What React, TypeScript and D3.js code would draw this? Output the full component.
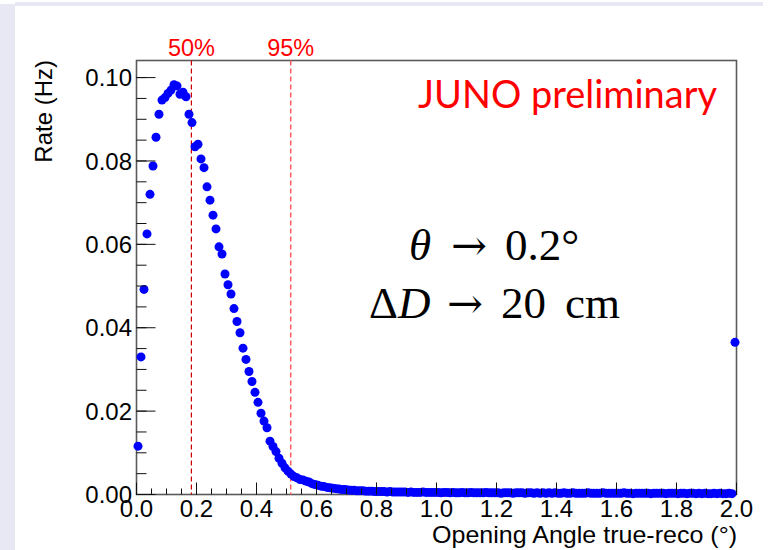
import React from 'react';
import * as d3 from 'd3';

// Rate (Hz) per 0.01° bin of opening angle; bins from 0.00 to 2.00
const rateHead = [
  0.0116, 0.0330, 0.0492, 0.0625, 0.0720, 0.0788, 0.0857, 0.0912, 0.0946, 0.0952,
  0.0962, 0.0970, 0.0983, 0.0980, 0.0960, 0.0965, 0.0954, 0.0912, 0.0892, 0.0834,
  0.0840, 0.0805, 0.0784, 0.0738, 0.0706, 0.0670, 0.0637, 0.0594, 0.0577, 0.0529,
  0.0503, 0.0481, 0.0446, 0.0415, 0.0388, 0.0351, 0.0324, 0.0295, 0.0271, 0.0245,
  0.0221, 0.0195, 0.0176, 0.0160, 0.0128, 0.0115, 0.0103, 0.0087, 0.0075, 0.0064,
  0.0056, 0.0049, 0.0043, 0.0040, 0.0036, 0.0035, 0.0032, 0.0030, 0.0026,
];
const rateTail = [
  0.0024, 0.0022, 0.0020, 0.0019, 0.0017, 0.0016, 0.0015, 0.0014, 0.0013, 0.0012,
  0.0012, 0.0011, 0.0010, 0.0010, 0.0009, 0.0009, 0.0009, 0.0008, 0.0008, 0.0008,
  0.0007, 0.0007, 0.0007, 0.0007, 0.0006, 0.0007, 0.0006, 0.0006, 0.0006, 0.0006,
  0.0006, 0.0005, 0.0006, 0.0005, 0.0005, 0.0005, 0.0006, 0.0005, 0.0005, 0.0005,
  0.0005, 0.0005, 0.0004, 0.0005, 0.0005, 0.0004, 0.0005, 0.0004, 0.0004, 0.0005,
  0.0004, 0.0004, 0.0005, 0.0004, 0.0004, 0.0004, 0.0004, 0.0005, 0.0004, 0.0004,
  0.0004, 0.0004, 0.0003, 0.0004, 0.0004, 0.0004, 0.0003, 0.0004, 0.0004, 0.0004,
  0.0003, 0.0004, 0.0004, 0.0003, 0.0004, 0.0003, 0.0004, 0.0003, 0.0004, 0.0003,
  0.0004, 0.0003, 0.0003, 0.0004, 0.0003, 0.0003, 0.0004, 0.0003, 0.0003, 0.0003,
  0.0003, 0.0004, 0.0003, 0.0003, 0.0003, 0.0003, 0.0004, 0.0003, 0.0003, 0.0003,
  0.0003, 0.0003, 0.0003, 0.0004, 0.0003, 0.0003, 0.0002, 0.0003, 0.0003, 0.0003,
  0.0003, 0.0003, 0.0002, 0.0003, 0.0003, 0.0003, 0.0003, 0.0002, 0.0003, 0.0003,
  0.0003, 0.0002, 0.0003, 0.0003, 0.0002, 0.0003, 0.0003, 0.0002, 0.0003, 0.0002,
  0.0003, 0.0002, 0.0002, 0.0003, 0.0002, 0.0003, 0.0002, 0.0002, 0.0003, 0.0002,
];
const overflowRate = 0.0365;
const rates = [...rateHead, ...rateTail, overflowRate];
const binWidth = 0.01;

const xTickValues = [0, 0.2, 0.4, 0.6, 0.8, 1.0, 1.2, 1.4, 1.6, 1.8, 2.0];
const xTickLabels = ['0.0', '0.2', '0.4', '0.6', '0.8', '1.0', '1.2', '1.4', '1.6', '1.8', '2.0'];
const yTickValues = [0, 0.02, 0.04, 0.06, 0.08, 0.1];
const yTickLabels = ['0.00', '0.02', '0.04', '0.06', '0.08', '0.10'];

const quantileValues = [0.183, 0.514];
const quantileLabels = ['50%', '95%'];
const quantileColors = ['#c80000', '#ff5a5a'];

const xTitle = 'Opening Angle true-reco (°)';
const yTitle = 'Rate (Hz)';

export default function App() {
  const W = 777, H = 550;
  const L = 136.5, R = 736.5, T = 60.5, B = 494.5;
  const x = d3.scaleLinear().domain([0, 2]).range([L, R]);
  const y = d3.scaleLinear().domain([0, 0.1041]).range([B, T]);
  const xMinor = d3.range(0, 2.0001, 0.05);
  const yMinor = d3.range(0, 0.104, 0.005);
  const sans = 'Liberation Sans, Arial, Helvetica, sans-serif';
  const serif = 'Liberation Serif, Times New Roman, serif';

  return (
    <svg width={W} height={H} style={{ position: 'absolute', left: 0, top: 0, background: '#fff' }}>
      <rect x={0} y={0} width={W} height={H} fill="#ffffff" />
      <rect x={0} y={4} width={15} height={H - 4} fill="#e8e8f4" />
      <rect x={15} y={2} width={748} height={4} fill="#e8e8f4" />

      {/* frame */}
      <rect x={L} y={T} width={R - L} height={B - T} fill="none" stroke="#5a5a5a" strokeWidth={1.6} />

      {/* quantile lines */}
      {quantileValues.map((q, i) => (
        <g key={'q' + i}>
          <line x1={x(q)} x2={x(q)} y1={T} y2={B} stroke={quantileColors[i]} strokeWidth={i === 0 ? 1.2 : 1.5} strokeDasharray="5,3" />
          <text x={x(q)} y={56} textAnchor="middle" fontFamily={sans} fontSize={23.5} fill="#ff0000">{quantileLabels[i]}</text>
        </g>
      ))}

      {/* points */}
      {rates.map((v, i) => (
        <circle key={'p' + i} cx={x(binWidth * i + binWidth / 2)} cy={y(v)} r={4.5} fill="#0000ff" />
      ))}

      {/* x ticks */}
      {xMinor.map((t, i) => (
        <line key={'xm' + i} x1={x(t)} x2={x(t)} y1={B} y2={B - 6} stroke="#111" strokeWidth={1} />
      ))}
      {xTickValues.map((t, i) => (
        <g key={'xt' + i}>
          <line x1={x(t)} x2={x(t)} y1={B} y2={B - 12} stroke="#111" strokeWidth={1} />
          <text x={x(t)} y={517} textAnchor="middle" fontFamily={sans} fontSize={24} fill="#000">{xTickLabels[i]}</text>
        </g>
      ))}

      {/* y ticks */}
      {yMinor.map((t, i) => (
        <line key={'ym' + i} x1={L} x2={L + 10} y1={y(t)} y2={y(t)} stroke="#111" strokeWidth={1} />
      ))}
      {yTickValues.map((t, i) => (
        <g key={'yt' + i}>
          <line x1={L} x2={L + 19} y1={y(t)} y2={y(t)} stroke="#111" strokeWidth={1} />
          <text x={132} y={y(t)} dy="0.36em" textAnchor="end" fontFamily={sans} fontSize={24} fill="#000">{yTickLabels[i]}</text>
        </g>
      ))}

      {/* axis titles */}
      <text x={737} y={543} textAnchor="end" fontFamily={sans} fontSize={24.5} fill="#000" textLength={305} lengthAdjust="spacingAndGlyphs">{xTitle}</text>
      <text transform="translate(52,60) rotate(-90)" textAnchor="end" fontFamily={sans} fontSize={24} fill="#000">{yTitle}</text>

      {/* annotations */}
      <text x={418} y={108} fontFamily="Lato, Noto Sans, sans-serif" fontSize={38} fill="#ff0000" textLength={299} lengthAdjust="spacingAndGlyphs">JUNO preliminary</text>
      <text y={260} fontFamily={serif} fontSize={45} fill="#000">
        <tspan x={409} fontStyle="italic">θ</tspan>
        <tspan x={451} fontFamily="DejaVu Serif" fontSize={42} textLength={36} lengthAdjust="spacingAndGlyphs">→</tspan>
        <tspan x={505}>0.2°</tspan>
      </text>
      <text y={318} fontFamily={serif} fontSize={45} fill="#000">
        <tspan x={369}>Δ</tspan>
        <tspan fontStyle="italic">D</tspan>
        <tspan x={447} fontFamily="DejaVu Serif" fontSize={42} textLength={36} lengthAdjust="spacingAndGlyphs">→</tspan>
        <tspan x={501}>20</tspan>
        <tspan x={565}>cm</tspan>
      </text>
    </svg>
  );
}
